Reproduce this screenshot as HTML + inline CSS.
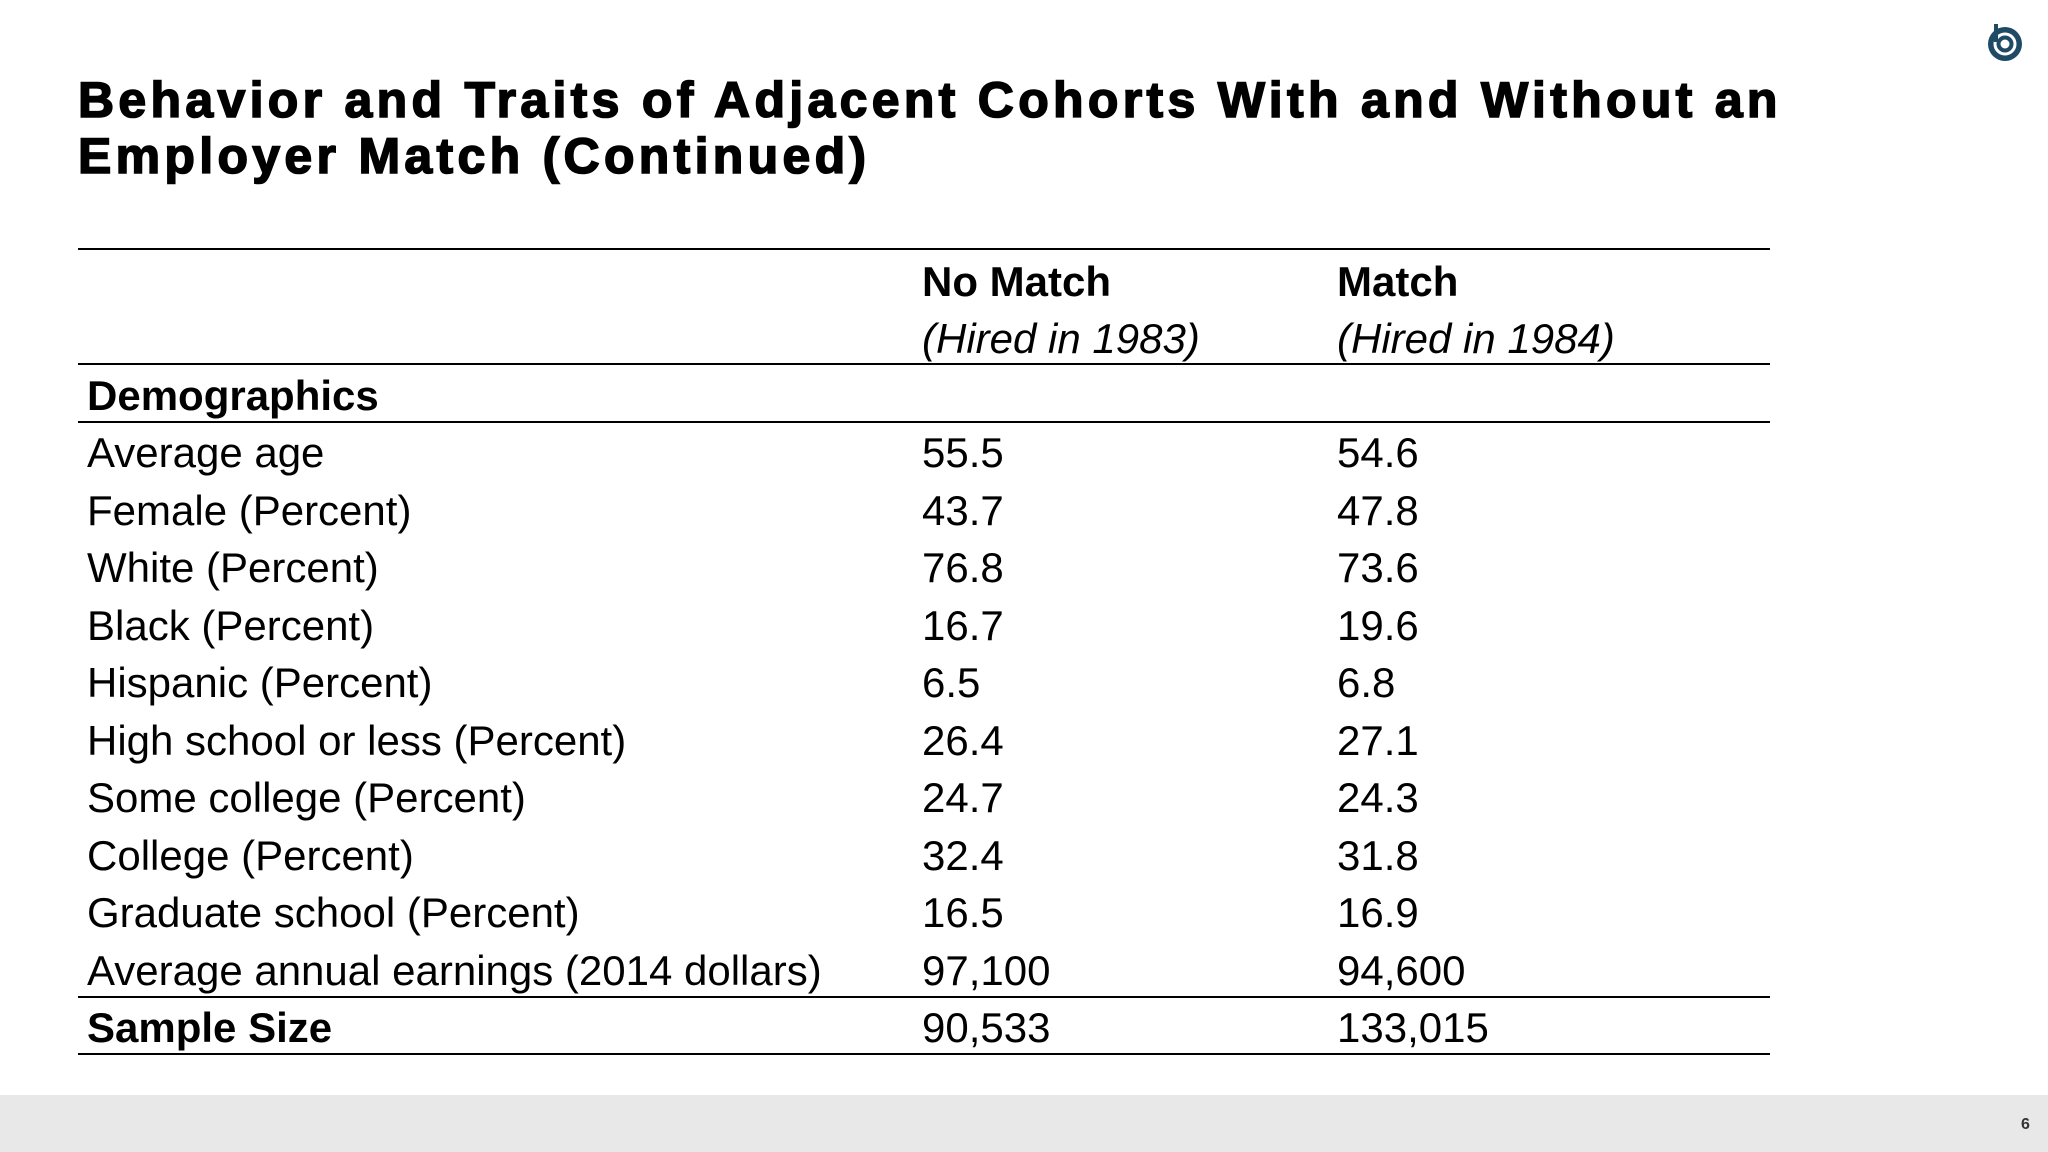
<!DOCTYPE html>
<html><head><meta charset="utf-8"><style>
html,body{margin:0;padding:0}
body{width:2048px;height:1152px;position:relative;background:#fff;font-family:"Liberation Sans",Arial,sans-serif;color:#000;overflow:hidden}
.t{position:absolute;font-size:42px;line-height:43px;white-space:nowrap}
.b{font-weight:bold}
.i{font-style:italic}
.ln{position:absolute;left:78px;width:1692px;height:2px;background:#000}
h1{position:absolute;left:78px;top:72px;margin:0;font-size:50px;line-height:56px;font-weight:900;letter-spacing:4.3px;-webkit-text-stroke:1.6px #000}
</style></head><body>
<div style="position:absolute;left:1986px;top:24px;width:38px;height:38px">
<svg width="38" height="38" viewBox="0 0 38 38"><circle cx="19" cy="20" r="17" fill="#1f4a66"/><circle cx="19" cy="20" r="10" fill="none" stroke="#fff" stroke-width="3"/><circle cx="19" cy="20" r="4.5" fill="#fff"/><rect x="8" y="0" width="4" height="18" fill="#1f4a66"/></svg></div>
<h1>Behavior and Traits of Adjacent Cohorts With and Without an<br>Employer Match (Continued)</h1>
<div>
<div class="ln" style="top:248px"></div>
<div class="ln" style="top:363px"></div>
<div class="ln" style="top:421px"></div>
<div class="ln" style="top:996px"></div>
<div class="ln" style="top:1053px"></div>
<div class="t b" style="left:922px;top:260px">No Match</div>
<div class="t b" style="left:1337px;top:260px">Match</div>
<div class="t i" style="left:922px;top:317px">(Hired in 1983)</div>
<div class="t i" style="left:1337px;top:317px">(Hired in 1984)</div>
<div class="t b" style="left:87px;top:374px">Demographics</div>
<div id="rows"></div>
</div>
<div style="position:absolute;left:0;top:1095px;width:2048px;height:57px;background:#e8e8e8"></div>
<div style="position:absolute;left:2021px;top:1116px;font-size:16px;font-weight:bold;color:#333">6</div>
<script>
const labels=["Average age","Female (Percent)","White (Percent)","Black (Percent)","Hispanic (Percent)","High school or less (Percent)","Some college (Percent)","College (Percent)","Graduate school (Percent)","Average annual earnings (2014 dollars)","Sample Size"];
const noMatch=["55.5","43.7","76.8","16.7","6.5","26.4","24.7","32.4","16.5","97,100","90,533"];
const match=["54.6","47.8","73.6","19.6","6.8","27.1","24.3","31.8","16.9","94,600","133,015"];
const rows=document.getElementById('rows');
labels.forEach((l,i)=>{
  const top=431+57.5*i;
  [[l,87],[noMatch[i],922],[match[i],1337]].forEach(([txt,x],j)=>{
    const d=document.createElement('div');
    d.className='t'+(i===labels.length-1&&j===0?' b':'');
    d.style.left=x+'px';d.style.top=top+'px';d.textContent=txt;
    
    
    rows.appendChild(d);
  });
});
</script>
</body></html>
